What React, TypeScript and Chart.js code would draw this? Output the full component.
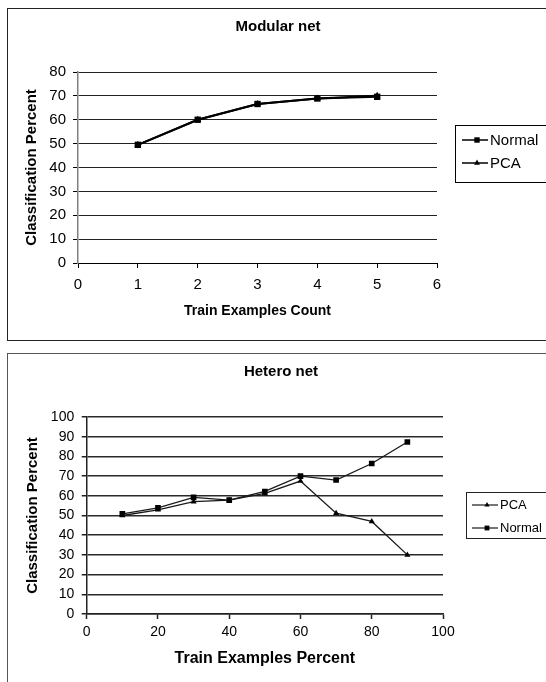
import React, { useEffect, useRef } from "react";
import { Chart, registerables } from "chart.js";

Chart.register(...registerables);

const FONT = "'Liberation Sans', Arial, Helvetica, sans-serif";

// ---- Modular net data ----
const modularTitle = "Modular net";
const modularCounts = [1, 2, 3, 4, 5];
const modularNormal = [49.5, 60, 66.6, 68.9, 69.6];
const modularPCA = [49.5, 60, 66.6, 68.9, 70.1];
const modularXRange = [0, 6, 1];
const modularYRange = [0, 80, 10];

// ---- Hetero net data ----
const heteroTitle = "Hetero net";
const heteroPercents = [10, 20, 30, 40, 50, 60, 70, 80, 90];
const heteroNormal = [50.8, 53.9, 59.2, 57.8, 62.2, 70, 68, 76.4, 87.3];
const heteroPCA = [50, 52.9, 57, 57.8, 61.2, 67.5, 51.2, 47, 30];
const heteroXRange = [0, 100, 20];
const heteroYRange = [0, 100, 10];

const toPoints = (xs: number[], ys: number[]) => xs.map((x, i) => ({ x, y: ys[i] }));

function drawMarker(ctx: CanvasRenderingContext2D, style: string, x: number, y: number, r: number) {
  ctx.beginPath();
  if (style === "rect") {
    const s = Math.SQRT1_2 * r;
    ctx.rect(x - s, y - s, 2 * s, 2 * s);
  } else {
    const a = Math.PI / 6;
    ctx.moveTo(x, y - r);
    ctx.lineTo(x + Math.cos(a) * r, y + Math.sin(a) * r);
    ctx.lineTo(x - Math.cos(a) * r, y + Math.sin(a) * r);
    ctx.closePath();
  }
  ctx.fill();
}

const decorPlugin = {
  id: "decor",
  afterDraw(chart: any, _args: any, opts: any) {
    const ctx: CanvasRenderingContext2D = chart.ctx;
    ctx.save();
    ctx.fillStyle = "#000";
    ctx.font = `bold ${opts.titleSize}px ${FONT}`;
    ctx.textAlign = "center";
    ctx.textBaseline = "middle";
    ctx.fillText(opts.title, opts.titleX, opts.titleY);

    const b = opts.box;
    ctx.strokeStyle = opts.boxColor;
    ctx.lineWidth = 1;
    ctx.strokeRect(b.x + 0.5, b.y + 0.5, b.w, b.h);

    opts.items.forEach((it: any) => {
      const ds = chart.data.datasets[it.index];
      ctx.strokeStyle = ds.borderColor;
      ctx.lineWidth = opts.lineWidth;
      ctx.beginPath();
      ctx.moveTo(opts.lineX1, it.y);
      ctx.lineTo(opts.lineX2, it.y);
      ctx.stroke();
      ctx.fillStyle = ds.pointBackgroundColor;
      drawMarker(ctx, ds.pointStyle, opts.markerX, it.y, ds.pointRadius * 0.85);
      ctx.fillStyle = "#000";
      ctx.font = `${opts.fontSize}px ${FONT}`;
      ctx.textAlign = "left";
      ctx.textBaseline = "middle";
      ctx.fillText(ds.label, opts.textX, it.y + 0.5);
    });
    ctx.restore();
  },
};

function useChart(ref: React.RefObject<HTMLCanvasElement>, makeConfig: () => any) {
  useEffect(() => {
    if (!ref.current) return;
    const chart = new Chart(ref.current, makeConfig());
    return () => chart.destroy();
  }, []);
}

function modularConfig() {
  return {
    type: "line",
    data: {
      datasets: [
        {
          label: "Normal",
          data: toPoints(modularCounts, modularNormal),
          borderColor: "#000",
          backgroundColor: "#000",
          pointBackgroundColor: "#000",
          pointBorderColor: "#000",
          borderWidth: 2,
          pointStyle: "rect",
          pointRadius: 4.5,
          pointBorderWidth: 0,
        },
        {
          label: "PCA",
          data: toPoints(modularCounts, modularPCA),
          borderColor: "#000",
          backgroundColor: "#000",
          pointBackgroundColor: "#000",
          pointBorderColor: "#000",
          borderWidth: 2,
          pointStyle: "triangle",
          pointRadius: 4,
          pointBorderWidth: 0,
        },
      ],
    },
    options: {
      responsive: false,
      animation: false,
      devicePixelRatio: 1,
      layout: { padding: { top: 72, right: 109, bottom: 0, left: 0 } },
      plugins: {
        legend: { display: false },
        title: { display: false },
        tooltip: { enabled: false },
        decor: {
          title: modularTitle,
          titleSize: 15,
          titleX: 278,
          titleY: 27,
          box: { x: 455, y: 125, w: 200, h: 57 },
          boxColor: "#000",
          items: [
            { index: 0, y: 140 },
            { index: 1, y: 163 },
          ],
          lineX1: 462,
          lineX2: 488,
          markerX: 477,
          lineWidth: 1.5,
          textX: 490,
          fontSize: 15,
        },
      },
      scales: {
        x: {
          type: "linear",
          min: modularXRange[0],
          max: modularXRange[1],
          ticks: { stepSize: modularXRange[2], color: "#000", font: { family: FONT, size: 15 }, padding: 8, maxRotation: 0, autoSkip: false },
          grid: { drawOnChartArea: false, drawTicks: true, tickLength: 5, tickColor: "#000", tickWidth: 1 },
          border: { display: true, color: "#000", width: 1 },
          title: { display: true, text: "Train Examples Count", color: "#000", font: { family: FONT, size: 14, weight: "bold" }, padding: { top: 0, bottom: 25 } },
          afterFit: (s: any) => { s.height = 82; },
        },
        y: {
          type: "linear",
          min: modularYRange[0],
          max: modularYRange[1],
          ticks: { stepSize: modularYRange[2], color: "#000", font: { family: FONT, size: 15 }, padding: 7, autoSkip: false },
          grid: { color: "#222", lineWidth: 1, drawTicks: true, tickLength: 5, tickColor: "#000" },
          border: { display: true, color: "#808080", width: 1.5 },
          title: { display: true, text: "Classification Percent", color: "#000", font: { family: FONT, size: 15, weight: "bold" }, padding: { top: 23, bottom: 0 } },
          afterFit: (s: any) => { s.width = 78; },
        },
      },
    },
    plugins: [decorPlugin],
  };
}

function heteroConfig() {
  return {
    type: "line",
    data: {
      datasets: [
        {
          label: "PCA",
          data: toPoints(heteroPercents, heteroPCA),
          borderColor: "#1a1a1a",
          backgroundColor: "#1a1a1a",
          pointBackgroundColor: "#000",
          pointBorderColor: "#000",
          borderWidth: 1.3,
          pointStyle: "triangle",
          pointRadius: 3.5,
          pointBorderWidth: 0,
        },
        {
          label: "Normal",
          data: toPoints(heteroPercents, heteroNormal),
          borderColor: "#1a1a1a",
          backgroundColor: "#1a1a1a",
          pointBackgroundColor: "#000",
          pointBorderColor: "#000",
          borderWidth: 1.3,
          pointStyle: "rect",
          pointRadius: 4,
          pointBorderWidth: 0,
        },
      ],
    },
    options: {
      responsive: false,
      animation: false,
      devicePixelRatio: 1,
      layout: { padding: { top: 72, right: 103, bottom: 0, left: 0 } },
      plugins: {
        legend: { display: false },
        title: { display: false },
        tooltip: { enabled: false },
        decor: {
          title: heteroTitle,
          titleSize: 15,
          titleX: 281,
          titleY: 27,
          box: { x: 466, y: 147, w: 200, h: 46 },
          boxColor: "#222",
          items: [
            { index: 0, y: 160 },
            { index: 1, y: 183 },
          ],
          lineX1: 472,
          lineX2: 498,
          markerX: 487,
          lineWidth: 1.2,
          textX: 500,
          fontSize: 13,
        },
      },
      scales: {
        x: {
          type: "linear",
          min: heteroXRange[0],
          max: heteroXRange[1],
          ticks: { stepSize: heteroXRange[2], color: "#000", font: { family: FONT, size: 14 }, padding: 5, maxRotation: 0, autoSkip: false },
          grid: { drawOnChartArea: false, drawTicks: true, tickLength: 5, tickColor: "#222", tickWidth: 1.5 },
          border: { display: true, color: "#222", width: 1.5 },
          title: { display: true, text: "Train Examples Percent", color: "#000", font: { family: FONT, size: 16, weight: "bold" }, padding: { top: 0, bottom: 14 } },
          afterFit: (s: any) => { s.height = 68; },
        },
        y: {
          type: "linear",
          min: heteroYRange[0],
          max: heteroYRange[1],
          ticks: { stepSize: heteroYRange[2], color: "#000", font: { family: FONT, size: 14 }, padding: 7.5, autoSkip: false },
          grid: { color: "#2a2a2a", lineWidth: 1.5, drawTicks: true, tickLength: 5, tickColor: "#222" },
          border: { display: true, color: "#222", width: 1.5 },
          title: { display: true, text: "Classification Percent", color: "#000", font: { family: FONT, size: 15, weight: "bold" }, padding: { top: 24, bottom: 0 } },
          afterFit: (s: any) => { s.width = 86.7; },
        },
      },
    },
    plugins: [decorPlugin],
  };
}

export default function App() {
  const ref1 = useRef<HTMLCanvasElement>(null);
  const ref2 = useRef<HTMLCanvasElement>(null);
  useChart(ref1, modularConfig);
  useChart(ref2, heteroConfig);

  return (
    <div style={{ position: "absolute", left: 0, top: 0, width: 546, height: 682, overflow: "hidden", background: "#fff" }}>
      <div style={{ position: "absolute", left: 7, top: 8, width: 600, height: 333, boxSizing: "border-box", border: "1px solid #222" }} />
      <div style={{ position: "absolute", left: 7, top: 353, width: 600, height: 400, boxSizing: "border-box", border: "1px solid #555" }} />
      <canvas ref={ref1} width={546} height={345} style={{ position: "absolute", left: 0, top: 0, width: 546, height: 345 }} />
      <canvas ref={ref2} width={546} height={337} style={{ position: "absolute", left: 0, top: 345, width: 546, height: 337 }} />
    </div>
  );
}
